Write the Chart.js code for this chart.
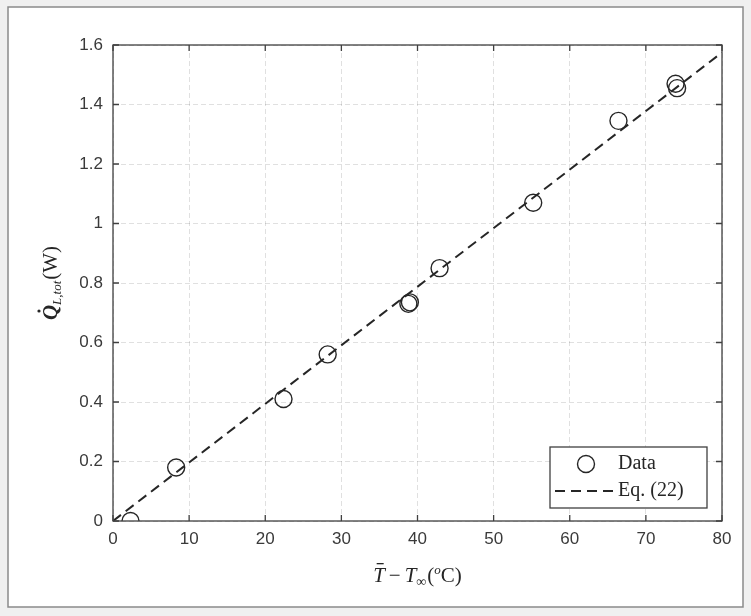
<!DOCTYPE html>
<html>
<head>
<meta charset="utf-8">
<script src="https://cdn.jsdelivr.net/npm/chart.js@4.4.1/dist/chart.umd.min.js"></script>
<style>
    html, body { margin: 0; padding: 0; background: #f0f0f0; }
    canvas { display: block; }
</style>
</head>
<body>
<canvas id="myChart" width="751" height="616"></canvas>
<script>
// measured points: temperature difference (oC) vs heat loss (W)
const dataX = [2.3, 8.3, 22.4, 28.2, 38.8, 39.0, 42.9, 55.2, 66.4, 73.9, 74.1];
const dataY = [0.0, 0.18, 0.41, 0.56, 0.73, 0.735, 0.85, 1.07, 1.345, 1.47, 1.455];
// Eq. (22) line
const eqX = [0, 80];
const eqY = [0, 1.575];
const xTicks = [0, 10, 20, 30, 40, 50, 60, 70, 80];
const yTicks = [0, 0.2, 0.4, 0.6, 0.8, 1, 1.2, 1.4, 1.6];
const legendLabels = ['Data', 'Eq. (22)'];

const SERIF = '"Liberation Serif", "DejaVu Serif", serif';
const INK = '#262626';

// draws a line of mixed-font text, centred on cx, baseline cy
function drawRich(ctx, parts, cx, cy) {
    let w = 0;
    parts.forEach(p => {
        ctx.font = p.font;
        p.w = ctx.measureText(p.t).width;
        w += p.w + (p.gap || 0);
    });
    let px = cx - w / 2;
    parts.forEach(p => {
        ctx.font = p.font;
        ctx.fillText(p.t, px, cy + (p.dy || 0));
        if (p.bar) {
            ctx.fillRect(px + p.w * 0.3, cy - 19, p.w * 0.6, 1.3);
        }
        if (p.dot) {
            ctx.beginPath();
            ctx.arc(px + p.w * 0.6, cy - 18, 1.6, 0, Math.PI * 2);
            ctx.fill();
        }
        px += p.w + (p.gap || 0);
    });
}

const frame = {
    id: 'frame',
    beforeDraw(chart) {
        const c = chart.ctx;
        c.save();
        c.fillStyle = '#f0f0f0';
        c.fillRect(0, 0, chart.width, chart.height);
        c.fillStyle = '#ffffff';
        c.fillRect(8, 7, 735, 600);
        c.strokeStyle = '#8a8a8a';
        c.lineWidth = 1.5;
        c.strokeRect(8, 7, 735, 600);
        c.restore();
    }
};

const axesBox = {
    id: 'axesBox',
    afterDatasetsDraw(chart) {
        const c = chart.ctx;
        const a = chart.chartArea;
        const x = chart.scales.x, y = chart.scales.y;
        c.save();
        c.strokeStyle = '#404040';
        c.lineWidth = 1.3;
        c.strokeRect(a.left, a.top, a.right - a.left, a.bottom - a.top);
        c.beginPath();
        xTicks.forEach(v => {
            const px = x.getPixelForValue(v);
            c.moveTo(px, a.bottom); c.lineTo(px, a.bottom - 6);
            c.moveTo(px, a.top); c.lineTo(px, a.top + 6);
        });
        yTicks.forEach(v => {
            const py = y.getPixelForValue(v);
            c.moveTo(a.left, py); c.lineTo(a.left + 6, py);
            c.moveTo(a.right, py); c.lineTo(a.right - 6, py);
        });
        c.stroke();
        c.restore();
    },
    afterDraw(chart) {
        const c = chart.ctx;
        const a = chart.chartArea;
        c.save();
        c.fillStyle = INK;
        c.textBaseline = 'alphabetic';

        // x title
        drawRich(c, [
            {t: 'T', font: 'italic 21px ' + SERIF, bar: true, gap: 4},
            {t: '\u2212', font: '21px ' + SERIF, gap: 4},
            {t: 'T', font: 'italic 21px ' + SERIF},
            {t: '\u221E', font: '14px ' + SERIF, dy: 4, gap: 1},
            {t: '(', font: '21px ' + SERIF},
            {t: 'o', font: 'italic 13px ' + SERIF, dy: -8},
            {t: 'C)', font: '21px ' + SERIF}
        ], (a.left + a.right) / 2, 582);

        // y title (rotated)
        c.translate(57, (a.top + a.bottom) / 2);
        c.rotate(-Math.PI / 2);
        drawRich(c, [
            {t: 'Q', font: 'italic bold 21px ' + SERIF, dot: true},
            {t: 'L,tot', font: 'italic 13px ' + SERIF, dy: 4, gap: 1},
            {t: '(W)', font: '21px ' + SERIF}
        ], 0, 0);
        c.restore();

        // legend box in the lower right corner
        const bx = a.right - 172, by = a.bottom - 74, bw = 157, bh = 61;
        c.save();
        c.fillStyle = '#ffffff';
        c.fillRect(bx, by, bw, bh);
        c.strokeStyle = '#404040';
        c.lineWidth = 1.3;
        c.strokeRect(bx, by, bw, bh);
        c.strokeStyle = INK;
        c.lineWidth = 1.4;
        c.beginPath();
        c.arc(bx + 36, by + 17, 8.5, 0, Math.PI * 2);
        c.stroke();
        c.lineWidth = 2;
        c.setLineDash([10, 6]);
        c.beginPath();
        c.moveTo(bx + 5, by + 44);
        c.lineTo(bx + 65, by + 44);
        c.stroke();
        c.setLineDash([]);
        c.fillStyle = INK;
        c.font = '20px ' + SERIF;
        c.textBaseline = 'middle';
        c.fillText(legendLabels[0], bx + 68, by + 17);
        c.fillText(legendLabels[1], bx + 68, by + 44);
        c.restore();
    }
};

const gridOpts = { color: 'rgba(0,0,0,0.12)', lineWidth: 1, drawTicks: false };
const tickFont = { family: '"Liberation Sans", Arial, sans-serif', size: 17 };

const ctx = document.getElementById('myChart').getContext('2d');
const myChart = new Chart(ctx, {
    type: 'scatter',
    data: {
        datasets: [{
            label: legendLabels[1],
            data: eqX.map((v, i) => ({x: v, y: eqY[i]})),
            showLine: true,
            borderColor: INK,
            borderWidth: 2,
            borderDash: [10, 6],
            pointRadius: 0,
            fill: false
        }, {
            label: legendLabels[0],
            data: dataX.map((v, i) => ({x: v, y: dataY[i]})),
            pointStyle: 'circle',
            pointRadius: 8.5,
            pointBorderWidth: 1.4,
            pointBorderColor: INK,
            pointBackgroundColor: 'rgba(0,0,0,0)'
        }]
    },
    options: {
        responsive: false,
        animation: false,
        layout: { padding: { left: 0, right: 29, top: 45, bottom: 0 } },
        plugins: { legend: { display: false }, tooltip: { enabled: false } },
        scales: {
            x: {
                type: 'linear', min: 0, max: 80,
                afterBuildTicks: s => { s.ticks = xTicks.map(v => ({value: v})); },
                afterFit: s => { s.height = 95; },
                grid: gridOpts,
                border: { display: false, dash: [5, 3] },
                ticks: { padding: 8, color: '#3a3a3a', font: tickFont, maxRotation: 0,
                         callback: v => String(v) }
            },
            y: {
                type: 'linear', min: 0, max: 1.6,
                afterBuildTicks: s => { s.ticks = yTicks.map(v => ({value: v})); },
                afterFit: s => { s.width = 113; },
                grid: gridOpts,
                border: { display: false, dash: [5, 3] },
                ticks: { padding: 10, color: '#3a3a3a', font: tickFont,
                         callback: v => String(Number(v.toFixed(2))) }
            }
        }
    },
    plugins: [frame, axesBox]
});
</script>
</body>
</html>
